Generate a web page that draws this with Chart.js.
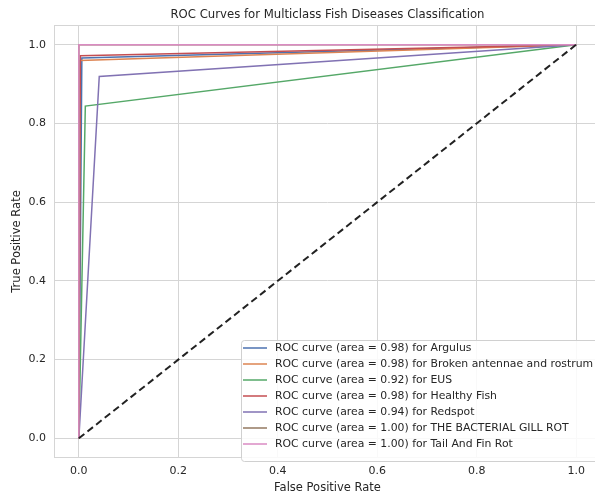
<!DOCTYPE html>
<html>
<head>
<meta charset="utf-8">
<script src="https://cdn.jsdelivr.net/npm/chart.js@4.4.1/dist/chart.umd.min.js"></script>
<style>
  body { margin: 0; overflow: hidden; background: #fff; }
  #wrap { width: 640px; height: 495px; }
</style>
</head>
<body>
<div id="wrap"><canvas id="roc" width="640" height="495"></canvas></div>
<script>
// ROC points (false positive rate / true positive rate)
const classNames = ["Argulus", "Broken antennae and rostrum", "EUS", "Healthy Fish",
  "Redspot", "THE BACTERIAL GILL ROT", "Tail And Fin Rot"];
const aucValues = [0.98, 0.98, 0.92, 0.98, 0.94, 1.00, 1.00];
const fprArgulus = [0, 0.006, 1];
const tprArgulus = [0, 0.966, 1];
const fprBroken = [0, 0.002, 1];
const tprBroken = [0, 0.960, 1];
const fprEUS = [0, 0.013, 1];
const tprEUS = [0, 0.844, 1];
const fprHealthy = [0, 0.003, 1];
const tprHealthy = [0, 0.972, 1];
const fprRedspot = [0, 0.041, 1];
const tprRedspot = [0, 0.919, 1];
const fprGillRot = [0, 0, 1];
const tprGillRot = [0, 1, 1];
const fprTailFin = [0, 0, 1];
const tprTailFin = [0, 1, 1];
const chanceLine = [0, 1];
const tickValues = [0, 0.2, 0.4, 0.6, 0.8, 1.0];

const fprs = [fprArgulus, fprBroken, fprEUS, fprHealthy, fprRedspot, fprGillRot, fprTailFin];
const tprs = [tprArgulus, tprBroken, tprEUS, tprHealthy, tprRedspot, tprGillRot, tprTailFin];
const colors = ["#4c72b0", "#dd8452", "#55a868", "#c44e52", "#8172b3", "#937860", "#da8bc3"];

const textColor = "#262626";
const gridColor = "#d5d5d5";
const font = "'DejaVu Sans', sans-serif";

const datasets = classNames.map((name, i) => ({
  label: `ROC curve (area = ${aucValues[i].toFixed(2)}) for ${name}`,
  data: fprs[i].map((x, j) => ({ x: x, y: tprs[i][j] })),
  borderColor: colors[i],
  borderWidth: 1.5,
  pointRadius: 0,
  fill: false,
  tension: 0,
  order: classNames.length - i
}));
datasets.push({
  label: "",
  data: chanceLine.map((v) => ({ x: v, y: v })),
  borderColor: "#222",
  borderWidth: 2,
  borderDash: [7, 4],
  pointRadius: 0,
  fill: false,
  order: 0
});

// frame, title and in-plot legend (matplotlib style)
const extras = {
  id: "extras",
  beforeDatasetsDraw(chart) {
    const { ctx, chartArea: a } = chart;
    ctx.save();
    ctx.strokeStyle = gridColor;
    ctx.lineWidth = 1;
    ctx.strokeRect(a.left + 0.5, a.top + 0.5, a.right - a.left - 1, a.bottom - a.top - 1);
    ctx.restore();
  },
  afterDraw(chart) {
    const { ctx, chartArea: a } = chart;
    ctx.save();
    ctx.fillStyle = textColor;
    ctx.font = "11.7px " + font;
    ctx.textAlign = "center";
    ctx.textBaseline = "middle";
    ctx.fillText("ROC Curves for Multiclass Fish Diseases Classification", (a.left + a.right) / 2, 15);

    // legend box
    const items = chart.data.datasets.filter((d) => d.label);
    const x0 = 241, y0 = 340, w = 360, rowH = 16;
    const h = items.length * rowH + 9;
    ctx.fillStyle = "rgba(255,255,255,0.85)";
    ctx.strokeStyle = "#d0d0d0";
    ctx.lineWidth = 1;
    ctx.beginPath();
    ctx.roundRect(x0 + 0.5, y0 + 0.5, w, h, 3);
    ctx.fill();
    ctx.stroke();
    ctx.font = "10.85px " + font;
    ctx.textAlign = "left";
    items.forEach((d, i) => {
      const y = y0 + 8 + i * rowH;
      ctx.strokeStyle = d.borderColor;
      ctx.lineWidth = 1.5;
      ctx.beginPath();
      ctx.moveTo(243, y);
      ctx.lineTo(267, y);
      ctx.stroke();
      ctx.fillStyle = textColor;
      ctx.fillText(d.label, 275, y);
    });
    ctx.restore();
  }
};

const axisCommon = {
  type: "linear",
  min: -0.05,
  max: 1.05,
  grid: { color: gridColor, lineWidth: 1, drawTicks: false },
  border: { display: false },
  afterBuildTicks: (scale) => { scale.ticks = tickValues.map((v) => ({ value: v })); },
  ticks: {
    color: textColor,
    font: { family: font, size: 11 },
    callback: (v) => Number(v).toFixed(1)
  }
};

new Chart(document.getElementById("roc"), {
  type: "line",
  data: { datasets: datasets },
  plugins: [extras],
  options: {
    responsive: false,
    animation: false,
    layout: { padding: { top: 25, right: 39, left: 0, bottom: 0 } },
    plugins: { legend: { display: false }, tooltip: { enabled: false } },
    scales: {
      x: {
        ...axisCommon,
        afterFit: (s) => { s.height = 37; },
        ticks: { ...axisCommon.ticks, padding: 7, maxRotation: 0 },
        title: { display: true, text: "False Positive Rate", color: textColor,
          font: { family: font, size: 11.5 }, padding: { top: 0, bottom: 0 } }
      },
      y: {
        ...axisCommon,
        afterFit: (s) => { s.width = 54; },
        ticks: { ...axisCommon.ticks, padding: 8 },
        title: { display: true, text: "True Positive Rate", color: textColor,
          font: { family: font, size: 11.5 }, padding: { top: 10, bottom: 0 } }
      }
    }
  }
});
</script>
</body>
</html>
